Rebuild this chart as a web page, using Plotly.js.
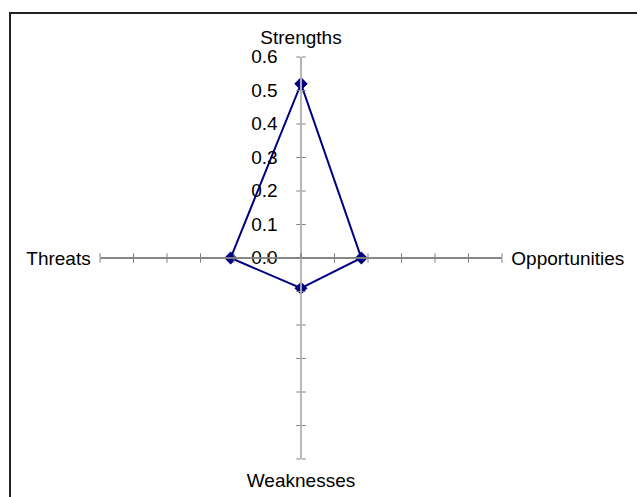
<!DOCTYPE html>
<html>
<head>
<meta charset="utf-8">
<script src="https://cdn.plot.ly/plotly-3.0.1.min.js"></script>
<style>
html, body { margin: 0; padding: 0; overflow: hidden; background: #fff; }
#frame {
  position: absolute; left: 9px; top: 12px;
  width: 700px; height: 600px;
  border-left: 2px solid #222; border-top: 2px solid #222;
}
#chart { position: absolute; left: 0; top: 0; width: 637px; height: 497px; }
</style>
</head>
<body>
<div id="frame"></div>
<div id="chart"></div>
<script>
// SWOT radar, single series
const categories = ['Strengths', 'Opportunities', 'Weaknesses', 'Threats']
const scores = [0.52, 0.18, 0.09, 0.21]
const radialTicks = [0, 0.1, 0.2, 0.3, 0.4, 0.5, 0.6]

const W = 637, H = 497
const cx = 301, cy = 258, rad = 201
const dom = {
  x: [(cx - rad) / W, (cx + rad) / W],
  y: [(H - cy - rad) / H, (H - cy + rad) / H]
}
const font = { family: 'Arial, "Liberation Sans", sans-serif', size: 19, color: '#000' }
const navy = '#000080'

const hiddenAngular = {
  type: 'category', categoryarray: categories,
  rotation: 90, direction: 'clockwise',
  showline: false, showgrid: false, showticklabels: false, ticks: ''
}

const data = [{
  type: 'scatterpolar',
  subplot: 'polar',
  r: scores.concat(scores[0]),
  theta: categories.concat(categories[0]),
  mode: 'lines+markers',
  line: { color: navy, width: 2 },
  marker: { symbol: 'diamond', size: 10, color: navy },
  cliponaxis: false,
  hoverinfo: 'r+theta'
}]

const layout = {
  width: W, height: H,
  margin: { l: 0, r: 0, t: 0, b: 0 },
  paper_bgcolor: 'rgba(0,0,0,0)',
  showlegend: false,
  font: font,
  polar: {
    domain: dom,
    bgcolor: 'rgba(0,0,0,0)',
    gridshape: 'linear',
    // labels only; visible ticks come from the spoke overlays below
    radialaxis: {
      range: [0, 0.6], tickvals: radialTicks, tickformat: '.1f',
      angle: 90, side: 'counterclockwise', tickangle: 90,
      showgrid: false, showline: true, linecolor: '#b4b4b4', linewidth: 1.5,
      ticks: 'outside', ticklen: 16, tickcolor: 'rgba(0,0,0,0)',
      tickfont: font
    },
    angularaxis: {
      type: 'category', categoryarray: categories,
      rotation: 90, direction: 'clockwise',
      showline: false, showgrid: false,
      ticks: 'outside', ticklen: 5, tickcolor: 'rgba(0,0,0,0)',
      tickfont: font
    }
  }
}

// spokes: each direction drawn twice so ticks cross the line
const spokes = [
  { angle: 90, color: '#b4b4b4', side: 'clockwise' },
  { angle: 90, color: '#b4b4b4', side: 'counterclockwise' },
  { angle: 0, color: '#808080', side: 'clockwise' },
  { angle: 0, color: '#808080', side: 'counterclockwise' },
  { angle: 180, color: '#808080', side: 'clockwise' },
  { angle: 180, color: '#808080', side: 'counterclockwise' },
  { angle: 270, color: '#b4b4b4', side: 'clockwise' },
  { angle: 270, color: '#b4b4b4', side: 'counterclockwise' }
]
spokes.forEach((s, i) => {
  const name = 'polar' + (i + 2)
  layout[name] = {
    domain: dom,
    bgcolor: 'rgba(0,0,0,0)',
    gridshape: 'linear',
    radialaxis: {
      range: [0, 0.6], tickvals: radialTicks,
      angle: s.angle, side: s.side,
      showgrid: false, showline: true, linecolor: s.color, linewidth: 1.5,
      ticks: 'outside', ticklen: 4, tickcolor: '#808080',
      showticklabels: false
    },
    angularaxis: hiddenAngular
  }
  data.unshift({ type: 'scatterpolar', subplot: name, r: [], theta: [], hoverinfo: 'skip' })
})

Plotly.newPlot('chart', data, layout, { displayModeBar: false, staticPlot: true })
</script>
</body>
</html>
